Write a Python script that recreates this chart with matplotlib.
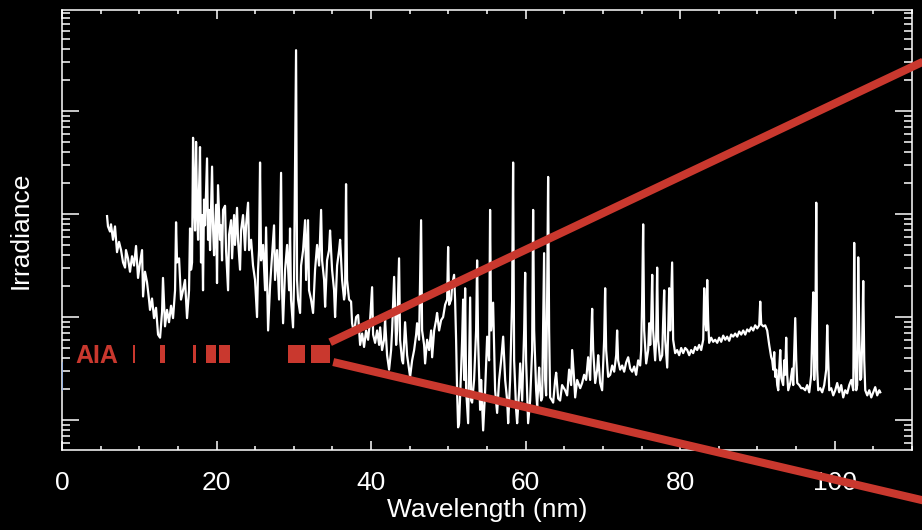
import numpy as np
import matplotlib.pyplot as plt
from matplotlib.ticker import MultipleLocator, LogLocator, NullFormatter

plt.rcParams['font.family'] = ['Liberation Sans', 'DejaVu Sans']

# spectrum: (wavelength in nm, log10 irradiance, arb. units)
spec_short = [
    (5.83, 1.98), (5.95, 1.88), (6.21, 1.83), (6.34, 1.90), (6.60, 1.75),
    (6.86, 1.88), (7.12, 1.63), (7.38, 1.73), (7.64, 1.65), (7.90, 1.53),
    (8.16, 1.48), (8.28, 1.65), (8.54, 1.57), (8.80, 1.44), (9.06, 1.59),
    (9.32, 1.50), (9.58, 1.69), (9.84, 1.38), (10.10, 1.53), (10.36, 1.65),
    (10.49, 1.20), (10.74, 1.44), (11.00, 1.34), (11.26, 1.17), (11.39, 1.07),
    (11.65, 1.18), (11.91, 0.99), (12.17, 1.09), (12.43, 0.83), (12.69, 0.80),
    (12.95, 1.05), (13.07, 1.38), (13.33, 0.91), (13.59, 1.07), (13.85, 0.95),
    (14.11, 1.11), (14.37, 0.99), (14.63, 1.26), (14.76, 1.92), (14.89, 1.53),
    (15.15, 1.57), (15.40, 1.17), (15.66, 1.26), (15.92, 1.36), (16.18, 0.99),
    (16.44, 1.26), (16.57, 1.86), (16.70, 1.46), (16.83, 1.53),
]

spec_hot = [
    (16.96, 2.74), (17.09, 2.14), (17.22, 1.84), (17.35, 2.70), (17.48, 2.04),
    (17.61, 1.75), (17.73, 2.23), (17.86, 2.65), (17.99, 1.53), (18.12, 1.99),
    (18.25, 1.26), (18.38, 2.14), (18.51, 1.89), (18.77, 2.54), (18.90, 1.75),
    (19.03, 2.04), (19.16, 1.65), (19.42, 2.46), (19.55, 1.86), (19.68, 1.60),
    (19.94, 2.09), (20.06, 1.33), (20.19, 2.28), (20.45, 1.75), (20.58, 1.89),
    (20.71, 1.55), (20.84, 2.04), (21.10, 2.08), (21.23, 1.65), (21.49, 1.26),
    (21.62, 1.80), (21.88, 1.94), (22.01, 1.57), (22.27, 1.99), (22.39, 1.70),
    (22.65, 2.06), (22.78, 1.75), (23.04, 1.46), (23.17, 1.84), (23.43, 1.99),
    (23.69, 1.65), (23.82, 1.89), (24.08, 2.11), (24.21, 1.65), (24.47, 1.75),
    (24.72, 1.50), (24.98, 1.36), (25.24, 1.00), (25.37, 1.46), (25.50, 1.65),
    (25.63, 2.50), (25.76, 1.55), (26.02, 1.70), (26.28, 1.26), (26.41, 1.87),
    (26.54, 1.36), (26.67, 0.87), (26.93, 1.31), (27.18, 1.60), (27.44, 1.89),
    (27.57, 1.36), (27.83, 1.65), (28.09, 1.17), (28.35, 2.40), (28.48, 1.26),
    (28.61, 0.94), (28.87, 1.46), (29.13, 1.70), (29.39, 1.26), (29.51, 1.86),
    (29.64, 1.17), (29.90, 0.90), (30.03, 1.36), (30.29, 3.59), (30.42, 1.36),
    (30.55, 1.17), (30.81, 1.04), (30.94, 1.50), (31.20, 1.65), (31.46, 1.94),
    (31.59, 1.36), (31.84, 1.94), (31.97, 1.26), (32.23, 1.17), (32.49, 1.04),
    (32.75, 1.46), (33.01, 1.70), (33.27, 1.50), (33.53, 2.04), (33.66, 1.55),
    (33.92, 1.36), (34.05, 1.10), (34.30, 1.55), (34.56, 1.65), (34.69, 1.84),
    (34.95, 1.46), (35.21, 1.26), (35.34, 1.00), (35.60, 1.50), (35.86, 1.65),
    (35.99, 1.75), (36.25, 1.36), (36.50, 1.17), (36.63, 1.23), (36.76, 2.29),
    (36.89, 1.36), (37.15, 1.17), (37.41, 1.15),
]

spec_mid = [
    (37.54, 0.94), (37.80, 0.84), (38.06, 1.00), (38.32, 1.02), (38.58, 0.73),
    (38.84, 0.84), (39.09, 0.71), (39.35, 0.87), (39.61, 0.78), (39.87, 0.97),
    (40.13, 1.29), (40.26, 0.83), (40.52, 0.75), (40.78, 0.87), (41.04, 0.73),
    (41.17, 0.90), (41.42, 0.68), (41.68, 0.78), (41.81, 0.97), (42.07, 0.63),
    (42.33, 0.49), (42.59, 0.68), (42.72, 0.87), (42.98, 1.39), (43.24, 0.73),
    (43.37, 0.87), (43.62, 1.57), (43.75, 0.78), (44.01, 0.58), (44.14, 0.55),
    (44.40, 0.95), (44.66, 0.63), (44.92, 0.49), (45.05, 0.42), (45.31, 0.58),
    (45.57, 0.68), (45.83, 0.83), (45.95, 0.94), (46.21, 0.78), (46.47, 1.94),
    (46.60, 0.87), (46.86, 0.73), (46.99, 0.55), (47.25, 0.78), (47.51, 0.68),
    (47.77, 0.87), (47.90, 0.61), (48.16, 0.87), (48.41, 0.97), (48.54, 1.04),
    (48.80, 0.87), (49.06, 0.97), (49.32, 1.00), (49.58, 1.12), (49.84, 1.17),
    (49.97, 1.68), (50.10, 1.12), (50.36, 1.17), (50.49, 1.31), (50.74, 1.41),
    (50.87, 1.17), (51.00, 0.78), (51.13, 0.29), (51.26, -0.07), (51.39, -0.03),
    (51.65, 0.49), (51.78, 0.78), (51.91, 1.17), (52.04, 0.39), (52.17, 1.28),
    (52.30, 0.29), (52.56, -0.03), (52.69, 0.58), (52.82, 1.19), (52.95, 0.19),
    (53.07, 0.17), (53.33, 0.39), (53.59, 0.87), (53.72, 1.55), (53.85, 0.78),
    (54.11, 0.10), (54.24, 0.39), (54.50, -0.10), (54.76, 0.29), (55.02, 0.81),
    (55.27, 0.58), (55.40, 2.04), (55.53, 0.87), (55.79, 1.14), (56.05, 0.29),
    (56.31, 0.07), (56.57, 0.39), (56.83, 0.58), (57.09, 0.81), (57.35, 0.39),
    (57.61, 0.19), (57.74, -0.03), (57.99, 0.39), (58.25, 1.17), (58.38, 2.50),
    (58.51, 0.58), (58.77, 0.10), (58.90, -0.03), (59.16, 0.29), (59.29, 0.55),
    (59.55, 0.19), (59.81, 0.87), (59.94, 1.43), (60.06, 0.58), (60.32, -0.03),
    (60.58, 0.19), (60.84, 0.68), (60.97, 2.04), (61.10, 0.87), (61.36, 0.29),
    (61.49, 0.13), (61.75, 0.51), (61.88, 0.29),
]

spec_long = [
    (62.01, 0.19), (62.14, 0.22), (62.26, 0.87), (62.39, 1.62), (62.52, 0.39),
    (62.65, 0.24), (62.78, 1.17), (62.91, 2.36), (63.04, 0.87), (63.17, 0.22),
    (63.43, 0.19), (63.56, 0.17), (63.82, 0.39), (63.95, 0.46), (64.21, 0.21),
    (64.46, 0.19), (64.72, 0.34), (65.11, 0.29), (65.37, 0.24), (65.63, 0.49),
    (65.89, 0.34), (66.02, 0.68), (66.28, 0.39), (66.41, 0.22), (66.67, 0.39),
    (67.06, 0.31), (67.31, 0.36), (67.57, 0.44), (67.83, 0.39), (68.09, 0.61),
    (68.35, 0.39), (68.48, 0.78), (68.61, 1.08), (68.74, 0.68), (69.00, 0.36),
    (69.26, 0.49), (69.39, 0.63), (69.64, 0.36), (69.90, 0.29), (70.16, 0.78),
    (70.29, 1.28), (70.42, 0.68), (70.68, 0.42), (70.94, 0.44), (71.20, 0.53),
    (71.46, 0.47), (71.72, 0.63), (71.84, 0.87), (71.97, 0.58), (72.23, 0.49),
    (72.49, 0.53), (72.75, 0.47), (73.01, 0.56), (73.27, 0.61), (73.53, 0.50),
    (73.79, 0.47), (74.05, 0.52), (74.30, 0.44), (74.56, 0.58), (74.82, 0.53),
    (74.95, 0.68), (75.08, 1.17), (75.21, 1.90), (75.34, 0.87), (75.60, 0.55),
    (75.86, 0.68), (75.99, 0.94), (76.12, 0.73), (76.25, 0.97), (76.38, 1.41),
    (76.50, 0.87), (76.76, 0.58), (76.89, 0.78), (77.02, 1.48), (77.15, 0.78),
    (77.41, 0.58), (77.67, 0.63), (77.80, 0.97), (77.93, 1.26), (78.06, 0.78),
    (78.32, 0.51), (78.45, 0.87), (78.58, 1.28), (78.71, 0.87), (78.83, 1.17),
    (78.96, 1.53), (79.09, 0.78), (79.35, 0.65), (79.61, 0.68), (79.87, 0.63),
    (80.13, 0.70),
]

spec_lyman = [
    (80.39, 0.65), (80.65, 0.70), (80.91, 0.68), (81.17, 0.63), (81.42, 0.68),
    (81.68, 0.65), (81.94, 0.71), (82.20, 0.68), (82.46, 0.73), (82.72, 0.68),
    (82.98, 0.78), (83.11, 1.28), (83.24, 0.99), (83.37, 0.87), (83.50, 1.36),
    (83.62, 0.97), (83.75, 0.75), (84.01, 0.80), (84.27, 0.76), (84.53, 0.78),
    (84.79, 0.75), (85.05, 0.80), (85.31, 0.76), (85.57, 0.82), (85.83, 0.78),
    (86.08, 0.81), (86.34, 0.77), (86.60, 0.83), (86.86, 0.81), (87.12, 0.84),
    (87.38, 0.81), (87.64, 0.86), (87.90, 0.83), (88.16, 0.87), (88.42, 0.83),
    (88.67, 0.88), (88.93, 0.86), (89.19, 0.90), (89.45, 0.87), (89.71, 0.92),
    (89.97, 0.89), (90.23, 0.92), (90.36, 1.15), (90.49, 0.93), (90.75, 0.91),
    (91.00, 0.92), (91.26, 0.87), (91.52, 0.73), (91.78, 0.61), (91.91, 0.58),
    (92.04, 0.49), (92.17, 0.66), (92.30, 0.42), (92.43, 0.49), (92.56, 0.34),
    (92.69, 0.29), (92.82, 0.50), (92.95, 0.68), (93.08, 0.41), (93.33, 0.34),
    (93.46, 0.58), (93.59, 0.44), (93.72, 0.80), (93.85, 0.44), (93.98, 0.29),
    (94.24, 0.36), (94.50, 0.50), (94.63, 0.34), (94.89, 0.99), (95.02, 0.58),
    (95.15, 0.36), (95.41, 0.34), (95.66, 0.31), (95.92, 0.31), (96.18, 0.29),
    (96.44, 0.34), (96.70, 0.27), (96.96, 0.44), (97.09, 0.87), (97.22, 1.24),
    (97.35, 0.39), (97.48, 0.68), (97.61, 2.11), (97.73, 0.49), (97.86, 0.29),
    (98.12, 0.31), (98.38, 0.27), (98.64, 0.34), (98.90, 0.49), (99.03, 0.92),
    (99.16, 0.58), (99.29, 0.29), (99.55, 0.31), (99.81, 0.24), (100.07, 0.29),
    (100.32, 0.36), (100.58, 0.27), (100.84, 0.34), (101.10, 0.22), (101.36, 0.29),
    (101.62, 0.26), (101.88, 0.34), (102.14, 0.39), (102.40, 0.29), (102.52, 1.72),
    (102.65, 0.68), (102.78, 0.29), (102.91, 0.34), (103.04, 1.58), (103.17, 0.87),
    (103.30, 0.39), (103.43, 0.41), (103.56, 0.78), (103.69, 1.35), (103.82, 0.58),
    (103.95, 0.29), (104.21, 0.24), (104.47, 0.29), (104.73, 0.22), (104.99, 0.27),
    (105.24, 0.32), (105.50, 0.24), (105.76, 0.29), (105.89, 0.27),
]

# AIA passbands (centre, drawn width in nm) and the irradiance range of the marks
aia_centres = [9.35, 13.0, 17.15, 19.3, 21.0, 30.35, 33.45]
aia_widths = [0.2, 0.55, 0.35, 1.3, 1.45, 2.25, 2.35]
aia_low, aia_high = 3.57, 5.35

# zoom wedge towards an inset on the right (nm, irradiance)
wedge_top = [(34.7, 5.7), (115.0, 4030.0)]
wedge_bottom = [(35.1, 3.66), (115.0, 0.144)]

red = '#c9382e'

spec = np.array(spec_short + spec_hot + spec_mid + spec_long + spec_lyman)
wl = spec[:, 0]
irr = 10 ** spec[:, 1]

fig = plt.figure(figsize=(9.22, 5.30), dpi=100, facecolor='black')
ax = fig.add_axes([62 / 922, 1 - 450 / 530, 850 / 922, 440 / 530])
ax.set_facecolor('black')

ax.plot(wl, irr, color='white', lw=1.6, zorder=3)
ax.plot([0, 0], [3.57, 1.95], color='#8fb0e8', lw=1.2, zorder=4)

ax.bar(aia_centres, aia_high - aia_low, bottom=aia_low, width=aia_widths,
       color=red, edgecolor='none', zorder=4)
ax.text(1.7, aia_low, 'AIA', color=red, fontsize=18, fontweight='bold',
        ha='left', va='baseline', zorder=4)

for seg in (wedge_top, wedge_bottom):
    xs, ys = zip(*seg)
    ax.plot(xs, ys, color=red, lw=5.8, solid_capstyle='butt',
            clip_on=False, zorder=6)

ax.set_yscale('log')
ax.set_xlim(0, 110)
ax.set_ylim(10 ** -0.29, 10 ** 3.98)

ax.xaxis.set_major_locator(MultipleLocator(20))
ax.xaxis.set_minor_locator(MultipleLocator(5))
ax.yaxis.set_major_locator(LogLocator(base=10, numticks=10))
ax.yaxis.set_minor_locator(LogLocator(base=10, subs=np.arange(2, 10), numticks=10))
ax.yaxis.set_major_formatter(NullFormatter())
ax.yaxis.set_minor_formatter(NullFormatter())

ax.tick_params(which='both', direction='in', colors='white', top=True, right=True,
               width=1.1, labelsize=19, labelcolor='white')
ax.tick_params(axis='x', which='major', length=6.5, pad=15)
ax.tick_params(axis='x', which='minor', length=3.2)
ax.tick_params(axis='y', which='major', length=12)
ax.tick_params(axis='y', which='minor', length=6)
for s in ax.spines.values():
    s.set_color('white')
    s.set_linewidth(1.1)

ax.set_xlabel('Wavelength (nm)', color='white', fontsize=19, labelpad=2)
ax.set_ylabel('Irradiance', color='white', fontsize=19)
ax.yaxis.set_label_coords(-0.035, 0.5)

fig.savefig('out.png', dpi=100, facecolor='black')
